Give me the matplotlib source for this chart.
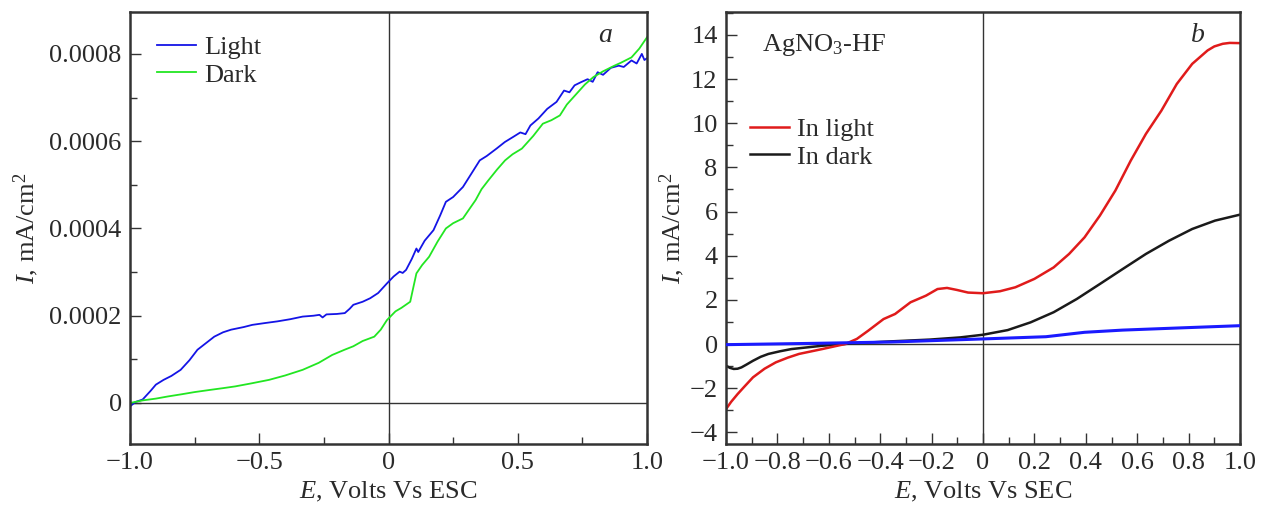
import numpy as np
import matplotlib
matplotlib.use("Agg")
import matplotlib.pyplot as plt
from matplotlib.ticker import MultipleLocator, FixedLocator

# panel a: E (V vs ESC) and I (mA/cm2)
e_light = [-1.0, -0.98, -0.951, -0.92, -0.90, -0.87, -0.84, -0.804, -0.77, -0.739, -0.70, -0.674,
           -0.64, -0.609, -0.56, -0.527, -0.48, -0.43, -0.38, -0.332, -0.29, -0.267, -0.255,
           -0.24, -0.20, -0.169, -0.15, -0.136, -0.10, -0.071, -0.04, -0.006, 0.02, 0.043,
           0.055, 0.068, 0.09, 0.108, 0.115, 0.14, 0.174, 0.20, 0.222, 0.25, 0.288, 0.32,
           0.353, 0.38, 0.418, 0.45, 0.483, 0.51, 0.53, 0.549, 0.58, 0.614, 0.65, 0.679,
           0.70, 0.72, 0.744, 0.77, 0.79, 0.809, 0.83, 0.86, 0.891, 0.91, 0.94, 0.96, 0.98,
           0.99, 1.0]
i_light = [-0.000008, 0.000002, 0.000008, 0.000028, 0.000042, 0.000053, 0.000062, 0.000076,
           0.000098, 0.000122, 0.000140, 0.000152, 0.000162, 0.000168, 0.000174, 0.000179,
           0.000183, 0.000187, 0.000192, 0.000198, 0.000200, 0.000202, 0.000196, 0.000203,
           0.000204, 0.000206, 0.000216, 0.000225, 0.000232, 0.000240, 0.000252, 0.000274,
           0.000290, 0.000301, 0.000298, 0.000305, 0.000330, 0.000354, 0.000346, 0.000372,
           0.000396, 0.000430, 0.000461, 0.000472, 0.000495, 0.000525, 0.000556, 0.000566,
           0.000583, 0.000598, 0.000610, 0.000620, 0.000616, 0.000636, 0.000652, 0.000674,
           0.000690, 0.000716, 0.000712, 0.000728, 0.000735, 0.000742, 0.000736, 0.000758,
           0.000752, 0.000768, 0.000773, 0.000770, 0.000785, 0.000778, 0.000800, 0.000786,
           0.000790]
e_dark = [-1.0, -0.95, -0.90, -0.853, -0.80, -0.75, -0.69, -0.64, -0.593, -0.53, -0.462, -0.40,
          -0.332, -0.27, -0.218, -0.17, -0.136, -0.10, -0.055, -0.03, -0.006, 0.027, 0.05,
          0.084, 0.095, 0.108, 0.13, 0.157, 0.19, 0.222, 0.25, 0.288, 0.31, 0.337, 0.36,
          0.386, 0.42, 0.451, 0.48, 0.516, 0.56, 0.597, 0.63, 0.663, 0.69, 0.728, 0.76,
          0.793, 0.83, 0.874, 0.90, 0.94, 0.97, 1.0]
i_dark = [0.0, 0.000006, 0.000010, 0.000015, 0.000020, 0.000025, 0.000030, 0.000034, 0.000038,
          0.000045, 0.000053, 0.000063, 0.000076, 0.000092, 0.000110, 0.000122, 0.000130,
          0.000142, 0.000152, 0.000168, 0.000190, 0.000210, 0.000218, 0.000232, 0.000262,
          0.000297, 0.000316, 0.000335, 0.000370, 0.000400, 0.000412, 0.000423, 0.000442,
          0.000465, 0.000490, 0.000510, 0.000535, 0.000556, 0.000570, 0.000583, 0.000612,
          0.000640, 0.000648, 0.000659, 0.000684, 0.000709, 0.000730, 0.000747, 0.000760,
          0.000773, 0.000780, 0.000792, 0.000812, 0.000838]

# panel b: E (V vs SEC) and I (mA/cm2)
e_b_light = [-1.0, -0.98, -0.955, -0.93, -0.895, -0.85, -0.806, -0.76, -0.716, -0.626, -0.536,
             -0.491, -0.447, -0.387, -0.342, -0.282, -0.222, -0.177, -0.140, -0.102, -0.058,
             0.0, 0.066, 0.126, 0.200, 0.275, 0.335, 0.395, 0.455, 0.515, 0.575, 0.634, 0.694,
             0.754, 0.814, 0.874, 0.90, 0.933, 0.96, 1.0]
i_b_light = [-2.95, -2.62, -2.27, -1.95, -1.51, -1.12, -0.83, -0.62, -0.45, -0.23, 0.0, 0.23,
             0.60, 1.13, 1.36, 1.89, 2.19, 2.49, 2.54, 2.45, 2.33, 2.30, 2.39, 2.57, 2.95,
             3.47, 4.08, 4.83, 5.82, 6.95, 8.31, 9.52, 10.57, 11.78, 12.69, 13.30, 13.48,
             13.60, 13.64, 13.63]
e_b_dark = [-1.0, -0.985, -0.970, -0.955, -0.940, -0.92, -0.895, -0.865, -0.835, -0.79, -0.746,
            -0.626, -0.506, -0.357, -0.207, -0.088, 0.0, 0.096, 0.185, 0.275, 0.365, 0.455,
            0.544, 0.634, 0.724, 0.814, 0.903, 1.0]
i_b_dark = [-0.98, -1.08, -1.13, -1.12, -1.06, -0.93, -0.76, -0.58, -0.45, -0.33, -0.23,
            -0.08, 0.03, 0.12, 0.20, 0.30, 0.42, 0.63, 0.98, 1.44, 2.04, 2.72, 3.40, 4.08,
            4.68, 5.21, 5.59, 5.86]
e_b_blue = [-1.0, -0.656, -0.357, 0.0, 0.245, 0.395, 0.544, 0.769, 1.0]
i_b_blue = [-0.03, 0.03, 0.09, 0.23, 0.33, 0.53, 0.63, 0.73, 0.83]

plt.rcParams['font.family'] = ['Liberation Serif', 'DejaVu Serif']
plt.rcParams['mathtext.fontset'] = 'custom'
plt.rcParams['mathtext.rm'] = 'Liberation Serif'
plt.rcParams['mathtext.it'] = 'Liberation Serif:italic'
plt.rcParams['font.size'] = 19
txt = '#2a2a2a'

fig = plt.figure(figsize=(12.65, 5.13), dpi=100)
ax1 = fig.add_axes([130 / 1265, 1 - 444 / 513, 517 / 1265, 432 / 513])
ax2 = fig.add_axes([726 / 1265, 1 - 444 / 513, 514 / 1265, 432 / 513])

for ax in (ax1, ax2):
    ax.axhline(0, color='#333333', lw=1.0, zorder=1)
    ax.axvline(0, color='#333333', lw=1.0, zorder=1)
    for s in ax.spines.values():
        s.set_linewidth(1.8)
        s.set_color('#333333')
    ax.tick_params(which='both', direction='in', top=False, right=False,
                   colors='#333333', labelcolor=txt, labelsize=19, width=1.0)
    ax.tick_params(which='major', length=8, pad=6)
    ax.tick_params(which='minor', length=5)
    ax.set_xlim(-1.0, 1.0)

# panel a
ax1.plot(e_light, i_light, color='#1414e6', lw=1.3, label='Light')
ax1.plot(e_dark, i_dark, color='#22e622', lw=1.3, label='Dark')
ax1.set_ylim(-0.000094, 0.000896)
ax1.xaxis.set_major_locator(FixedLocator([-1.0, -0.5, 0, 0.5, 1.0]))
ax1.xaxis.set_minor_locator(MultipleLocator(0.25))
ax1.set_xticklabels(['\u22121.0', '\u22120.5', '0', '0.5', '1.0'])
ax1.yaxis.set_major_locator(FixedLocator([0, 0.0002, 0.0004, 0.0006, 0.0008]))
ax1.yaxis.set_minor_locator(MultipleLocator(0.0001))
ax1.set_yticklabels(['0', '0.0002', '0.0004', '0.0006', '0.0008'])
ax1.set_xlabel('$E$, Volts Vs ESC', color=txt, labelpad=4)
ax1.set_ylabel('$I$, mA/cm$^2$', color=txt, labelpad=6)
ax1.text(0.905, 0.93, 'a', transform=ax1.transAxes, style='italic', color=txt, fontsize=20)
ax1.legend(loc='upper left', bbox_to_anchor=(0.006, 1.0), frameon=False, handlelength=1.5,
           handletextpad=0.3, labelspacing=0.15, fontsize=19, labelcolor=txt)

# panel b
ax2.plot(e_b_blue, i_b_blue, color='#1a1aff', lw=2.2, zorder=3)
ax2.plot(e_b_dark, i_b_dark, color='#1a1a1a', lw=1.8, label='In dark', zorder=2)
ax2.plot(e_b_light, i_b_light, color='#e01b1b', lw=1.8, label='In light', zorder=2)
ax2.set_ylim(-4.53, 15.04)
ax2.xaxis.set_major_locator(FixedLocator([-1.0, -0.8, -0.6, -0.4, -0.2, 0, 0.2, 0.4, 0.6, 0.8, 1.0]))
ax2.xaxis.set_minor_locator(MultipleLocator(0.1))
ax2.set_xticklabels(['\u22121.0', '\u22120.8', '\u22120.6', '\u22120.4', '\u22120.2', '0',
                     '0.2', '0.4', '0.6', '0.8', '1.0'])
ax2.yaxis.set_major_locator(MultipleLocator(2))
ax2.yaxis.set_minor_locator(MultipleLocator(1))
ax2.set_yticklabels([f'{v:g}'.replace('-', '\u2212') for v in ax2.get_yticks()])
ax2.set_xlabel('$E$, Volts Vs SEC', color=txt, labelpad=4)
ax2.set_ylabel('$I$, mA/cm$^2$', color=txt, labelpad=2)
ax2.text(0.905, 0.93, 'b', transform=ax2.transAxes, style='italic', color=txt, fontsize=20)
ax2.text(0.07, 0.91, 'AgNO$_3$-HF', transform=ax2.transAxes, color=txt, fontsize=19)
h, l = ax2.get_legend_handles_labels()
ax2.legend(h[::-1], l[::-1], loc='upper left', bbox_to_anchor=(0.0, 0.81), frameon=False,
           handlelength=1.5, handletextpad=0.3, labelspacing=0.15, fontsize=19, labelcolor=txt)

fig.savefig('out.png', dpi=100)
